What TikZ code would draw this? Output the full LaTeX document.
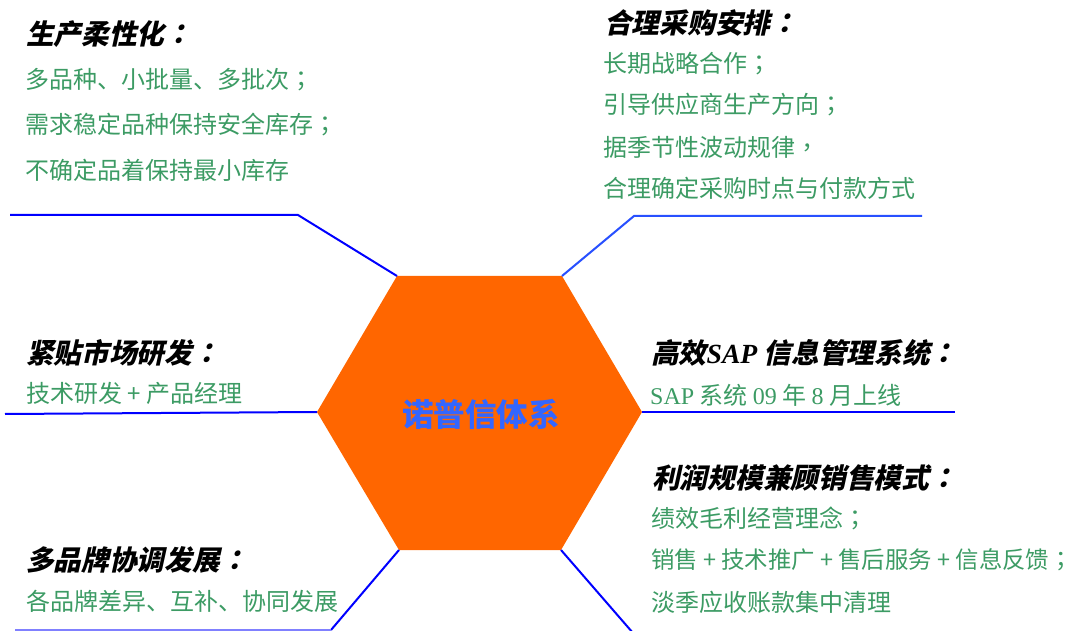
\documentclass[tikz,border=0pt]{standalone}
\usepackage{fontspec}
\setmainfont{Liberation Serif}
\newfontfamily\cjk{Noto Sans CJK SC}
\newfontfamily\cjkp{Noto Sans CJK TC}
\newfontfamily\cjktitle[FakeSlant=0.22,BoldFeatures={FakeSlant=0.22}]{Noto Sans CJK SC}
\newfontfamily\cjktitlep[FakeSlant=0.22,BoldFeatures={FakeSlant=0.22}]{Noto Sans CJK TC}
\newcommand\semi{{\cjkp ；}}
\newcommand\colo{{\cjktitlep\bfseries ：}}
\definecolor{txtgreen}{RGB}{60,155,100}
\definecolor{hexorange}{RGB}{255,102,0}
\definecolor{centerblue}{RGB}{51,102,255}
\definecolor{linkblue}{RGB}{0,0,255}
\definecolor{linkblueB}{RGB}{40,80,255}
\definecolor{linkpale}{RGB}{128,128,255}
\tikzset{
  titletext/.style={anchor=west,inner sep=0pt,font=\cjktitle\bfseries\fontsize{27.7}{27.7}\selectfont},
  itemtext/.style={anchor=west,inner sep=0pt,text=txtgreen,font=\cjk\fontsize{24}{24}\selectfont},
  link/.style={draw=linkblue,line width=2pt},
}
\begin{document}
\begin{tikzpicture}[x=1pt,y=-1pt]
\useasboundingbox (0,0) rectangle (1074,631);
% hexagon
\coordinate (htl) at (397,276);
\coordinate (htr) at (562,276);
\coordinate (hr) at (642,412);
\coordinate (hbr) at (561,550);
\coordinate (hbl) at (399,550);
\coordinate (hl) at (317,412);
\fill[hexorange] (htl) -- (htr) -- (hr) -- (hbr) -- (hbl) -- (hl) -- cycle;
\node[inner sep=0pt,text=centerblue,font=\cjk\bfseries\fontsize{31.5}{31.5}\selectfont] (core) at (481,414) {诺普信体系};

% connectors
\coordinate (a1) at (298,215);
\coordinate (a2) at (10,215);
\draw[link] (htl) -- (a1) -- (a2);
\coordinate (b1) at (634,216);
\coordinate (b2) at (922,216);
\draw[link,draw=linkblueB] (htr) -- (b1) -- (b2);
\coordinate (c1) at (5,414);
\draw[link] (hl) -- (c1);
\coordinate (d1) at (955,412);
\draw[link] (hr) -- (d1);
\coordinate (e1) at (331,630);
\coordinate (e2) at (15,630);
\draw[link] (hbl) -- (e1);
\draw[line width=2pt,draw=linkpale] (e1) -- (e2);
\coordinate (f1) at (633,633);
\draw[link] (hbr) -- (f1);

% top-left
\node[titletext] (t1) at (26,34) {生产柔性化\colo};
\node[itemtext] (t1a) at (25,80) {多品种、小批量、多批次\semi};
\node[itemtext] (t1b) at (25,125) {需求稳定品种保持安全库存\semi};
\node[itemtext] (t1c) at (25,170) {不确定品着保持最小库存};

% top-right
\node[titletext] (t2) at (604,23) {合理采购安排\colo};
\node[itemtext] (t2a) at (603,64) {长期战略合作\semi};
\node[itemtext] (t2b) at (603,105) {引导供应商生产方向\semi};
\node[itemtext] (t2c) at (603,147) {据季节性波动规律{\cjkp ，}};
\node[itemtext] (t2d) at (603,188) {合理确定采购时点与付款方式};

% middle-left
\node[titletext] (t3) at (26,353) {紧贴市场研发\colo};
\node[itemtext] (t3a) at (26,393) {技术研发 + 产品经理};

% middle-right
\node[titletext] (t4) at (651,353) {高效{\rmfamily\bfseries\itshape SAP} 信息管理系统\colo};
\node[itemtext] (t4a) at (650,395) {{\rmfamily SAP} 系统 {\rmfamily 09} 年 {\rmfamily 8} 月上线};

% bottom-left
\node[titletext] (t5) at (26,560) {多品牌协调发展\colo};
\node[itemtext] (t5a) at (26,601) {各品牌差异、互补、协同发展};

% bottom-right
\node[titletext] (t6) at (652,478) {利润规模兼顾销售模式\colo};
\node[itemtext] (t6a) at (651,518) {绩效毛利经营理念\semi};
\node[itemtext,font=\cjk\fontsize{23.4}{23.4}\selectfont] (t6b) at (651,560) {销售 + 技术推广 + 售后服务 + 信息反馈\semi};
\node[itemtext] (t6c) at (651,602) {淡季应收账款集中清理};
\end{tikzpicture}
\end{document}
